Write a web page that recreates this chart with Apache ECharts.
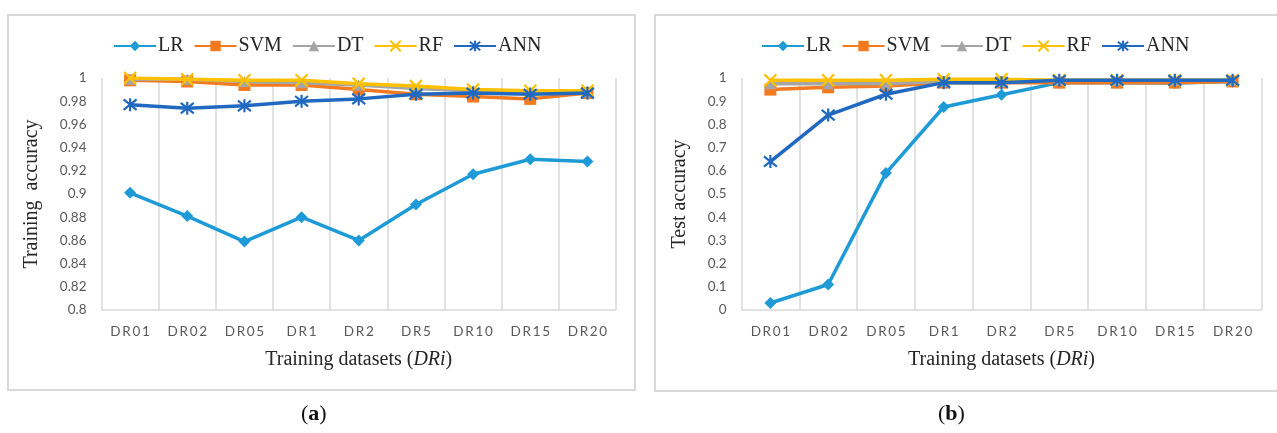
<!DOCTYPE html>
<html>
<head>
<meta charset="utf-8">
<script src="https://cdn.jsdelivr.net/npm/echarts@6/dist/echarts.min.js"></script>
<style>
html,body{margin:0;padding:0;background:#fff;}
#c{width:1277px;height:433px;}
</style>
</head>
<body>
<div id="c"></div>
<script>
// ---- data ----
var categories = ['DR01','DR02','DR05','DR1','DR2','DR5','DR10','DR15','DR20'];
var seriesNames = ['LR','SVM','DT','RF','ANN'];

// (a) training accuracy
var trainLR  = [0.901, 0.881, 0.859, 0.880, 0.860, 0.891, 0.917, 0.930, 0.928];
var trainSVM = [0.998, 0.997, 0.994, 0.994, 0.990, 0.986, 0.984, 0.982, 0.987];
var trainDT  = [0.999, 0.999, 0.997, 0.996, 0.994, 0.991, 0.989, 0.988, 0.988];
var trainRF  = [1.000, 0.999, 0.998, 0.998, 0.995, 0.993, 0.990, 0.989, 0.989];
var trainANN = [0.977, 0.974, 0.976, 0.980, 0.982, 0.986, 0.987, 0.986, 0.987];

// (b) test accuracy
var testLR  = [0.03, 0.11, 0.59, 0.875, 0.928, 0.98, 0.98, 0.978, 0.985];
var testSVM = [0.95, 0.96, 0.965, 0.98, 0.98, 0.98, 0.98, 0.98, 0.985];
var testDT  = [0.975, 0.975, 0.975, 0.985, 0.985, 0.99, 0.99, 0.99, 0.99];
var testRF  = [0.99, 0.99, 0.99, 0.995, 0.995, 0.99, 0.99, 0.99, 0.99];
var testANN = [0.64, 0.84, 0.93, 0.98, 0.98, 0.99, 0.99, 0.99, 0.99];

var trainTicks = {min: 0.8, max: 1, interval: 0.02};
var testTicks  = {min: 0, max: 1, interval: 0.1};

// ---- styles ----
var colors = {LR:'#1E9BD7', SVM:'#F47A20', DT:'#A5A5A5', RF:'#FFC000', ANN:'#2169C0'};
var symbols = {
  LR: 'diamond',
  SVM: 'rect',
  DT: 'triangle',
  RF: 'path://M0,0L10,10M0,10L10,0',
  ANN: 'path://M5,0L5,10M0,1L10,9M0,9L10,1'
};
var sizes = {LR: 12, SVM: 12, DT: 11, RF: 12, ANN: 13};
var serif = '"Liberation Serif", "DejaVu Serif", serif';
var sans = 'Lato, "Open Sans", "Noto Sans", sans-serif';

function spaced(s){ return s.split('').join('\u2009'); }

function mkSeries(name, data, idx){
  var stroke = (name === 'RF' || name === 'ANN');
  return {
    name: name, type: 'line', data: data,
    xAxisIndex: idx, yAxisIndex: idx,
    symbol: symbols[name], symbolSize: sizes[name],
    showSymbol: true,
    lineStyle: {color: colors[name], width: 3.5},
    itemStyle: {color: colors[name], borderColor: colors[name], borderWidth: stroke ? 2.2 : 0},
    emphasis: {disabled: true},
    animation: false,
    z: 2 + seriesNames.indexOf(name)
  };
}

var dataA = {LR: trainLR, SVM: trainSVM, DT: trainDT, RF: trainRF, ANN: trainANN};
var dataB = {LR: testLR, SVM: testSVM, DT: testDT, RF: testRF, ANN: testANN};
var series = [];
seriesNames.forEach(function(n){ series.push(mkSeries(n, dataA[n], 0)); });
seriesNames.forEach(function(n){ series.push(mkSeries(n, dataB[n], 1)); });

function xAxisDef(idx){
  return {
    type: 'category', gridIndex: idx, data: categories, boundaryGap: true,
    axisLine: {show: true, lineStyle: {color: '#d9d9d9', width: 1.5}},
    axisTick: {show: false},
    splitLine: {show: true, lineStyle: {color: '#d9d9d9', width: 1.5}},
    axisLabel: {color: '#595959', fontFamily: sans, fontSize: 13.5, margin: 15,
      formatter: function(v){ return spaced(v); }},
    name: 'Training datasets ({i|DRi})',
    nameLocation: 'middle', nameGap: 40,
    nameTextStyle: {fontFamily: serif, fontSize: 20, color: '#262626',
      rich: {i: {fontFamily: serif, fontSize: 20, fontStyle: 'italic', color: '#262626'}}}
  };
}
function yAxisDef(idx, t, name, gap){
  return {
    type: 'value', gridIndex: idx, min: t.min, max: t.max, interval: t.interval,
    axisLine: {show: false}, axisTick: {show: false},
    splitLine: {show: false},
    axisLabel: {color: '#595959', fontFamily: sans, fontSize: 13.5, margin: 15},
    name: name, nameLocation: 'middle', nameGap: gap, nameRotate: 90,
    nameTextStyle: {fontFamily: serif, fontSize: 20, color: '#262626'}
  };
}

var legendBase = {
  data: seriesNames, itemWidth: 42, itemHeight: 13, itemGap: 10,
  textStyle: {fontFamily: serif, fontSize: 20, color: '#262626', padding: [0,0,0,-3]},
  selectedMode: false
};

var option = {
  backgroundColor: '#ffffff',
  animation: false,
  grid: [
    {left: 101.5, top: 78, width: 514.5, height: 232, containLabel: false},
    {left: 741.5, top: 78, width: 520, height: 232, containLabel: false}
  ],
  legend: [
    Object.assign({}, legendBase, {left: 108, top: 31}),
    Object.assign({}, legendBase, {left: 756, top: 31})
  ],
  xAxis: [xAxisDef(0), xAxisDef(1)],
  yAxis: [
    yAxisDef(0, trainTicks, 'Training  accuracy', 60),
    yAxisDef(1, testTicks, 'Test accuracy', 52)
  ],
  series: series,
  graphic: [
    {type: 'rect', shape: {x: 8, y: 15, width: 627, height: 375},
     style: {fill: 'none', stroke: '#d9d9d9', lineWidth: 2}, z: -1, silent: true},
    {type: 'rect', shape: {x: 655, y: 15, width: 640, height: 376},
     style: {fill: 'none', stroke: '#d9d9d9', lineWidth: 2}, z: -1, silent: true},
    {type: 'text', left: 301, top: 403,
     style: {text: '({b|a})', fontFamily: serif, fontSize: 22, fill: '#111',
       rich: {b: {fontFamily: serif, fontSize: 22, fontWeight: 'bold', fill: '#111'}}}},
    {type: 'text', left: 938, top: 403,
     style: {text: '({b|b})', fontFamily: serif, fontSize: 22, fill: '#111',
       rich: {b: {fontFamily: serif, fontSize: 22, fontWeight: 'bold', fill: '#111'}}}}
  ]
};

var chart = echarts.init(document.getElementById('c'), null, {renderer: 'canvas'});
chart.setOption(option);
</script>
</body>
</html>
